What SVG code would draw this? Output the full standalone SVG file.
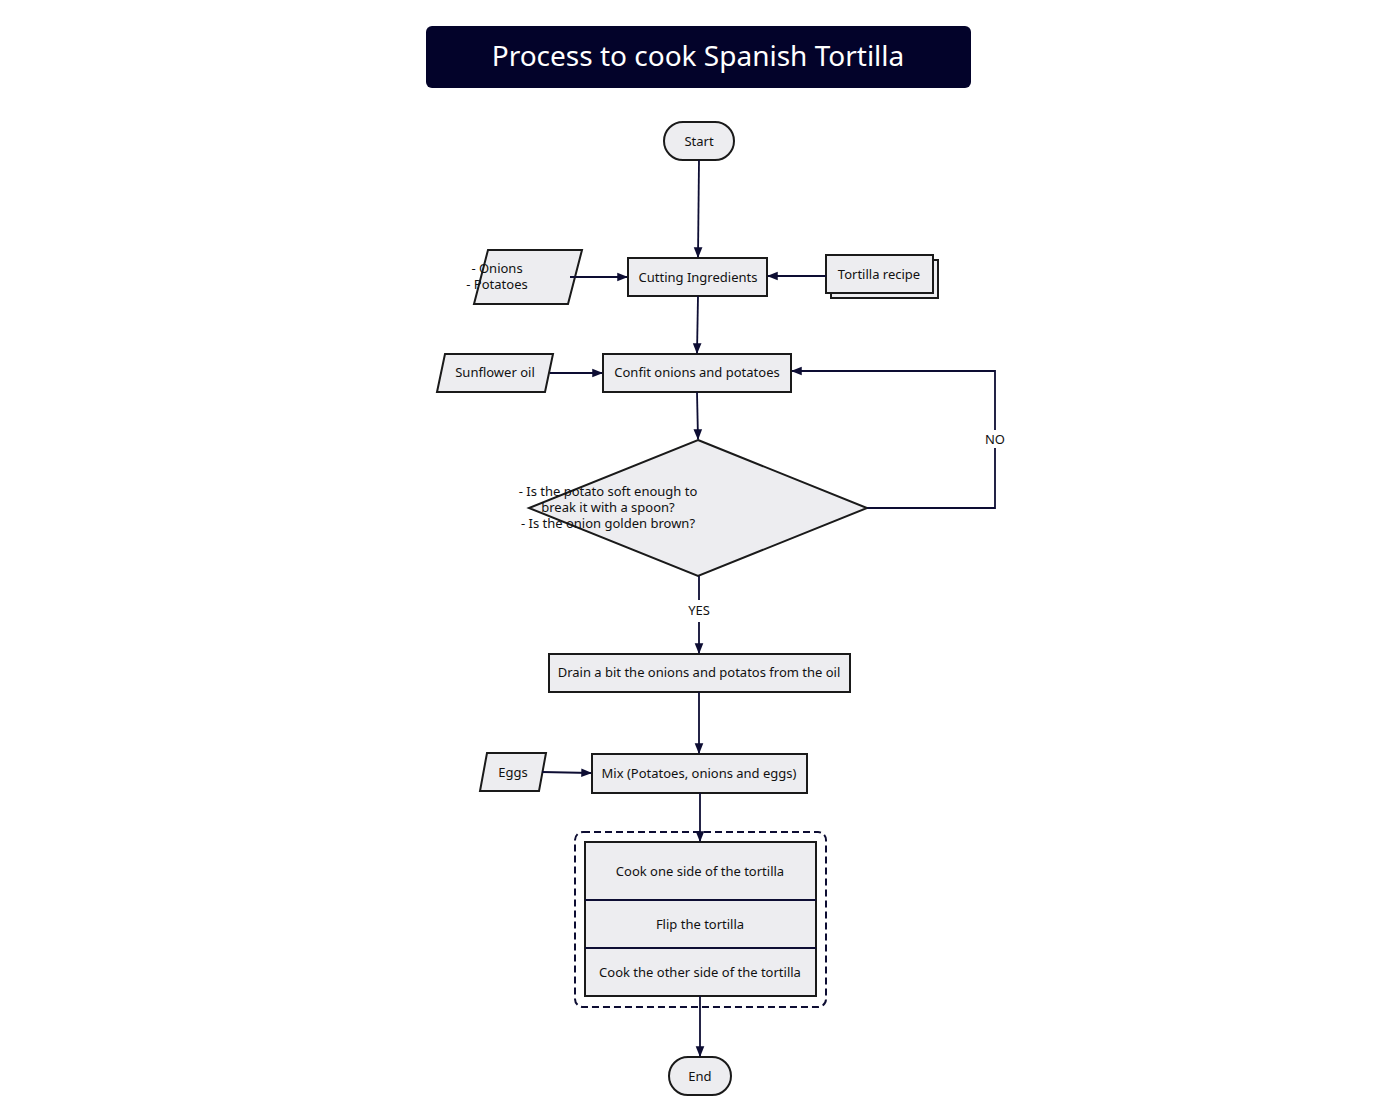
<svg xmlns="http://www.w3.org/2000/svg" width="1400" height="1118" viewBox="0 0 1400 1118">
<style>
.n{fill:#ededf0;stroke:#1a1a1a;stroke-width:2}
.t{font-family:"Noto Sans","Liberation Sans",sans-serif;font-size:13px;fill:#111;text-anchor:middle}
.c{fill:none;stroke:#0d0d33;stroke-width:1.8}
</style>
<defs><marker id="a" viewBox="0 0 10 10" refX="9" refY="5" markerWidth="6" markerHeight="6" orient="auto"><path d="M0,1 L10,5 L0,9 z" fill="#0d0d33"/></marker></defs>
<rect width="1400" height="1118" fill="#fff"/>
<g id="title"><rect x="426" y="26" width="545" height="62" rx="6" fill="#03032a"/><text x="698" y="66" font-family="Noto Sans,Liberation Sans,sans-serif" font-size="28" fill="#fff" text-anchor="middle">Process to cook Spanish Tortilla</text></g>
<g id="start"><rect class="n" x="664" y="122" width="70" height="38" rx="19"/><text class="t" x="699" y="146">Start</text></g>
<g id="ing"><polygon class="n" points="488,250 582,250 568,304 474,304"/><text class="t" x="497" y="273" text-anchor="start">- Onions</text><text class="t" x="497" y="289" text-anchor="start">- Potatoes</text></g>
<g id="cut"><rect class="n" x="628" y="258" width="139" height="38"/><text class="t" x="698" y="282">Cutting Ingredients</text></g>
<g id="recipe"><rect class="n" x="831" y="260" width="107" height="38"/><rect class="n" x="826" y="255" width="107" height="38"/><text class="t" x="879" y="279">Tortilla recipe</text></g>
<g id="oil"><polygon class="n" points="445,354 553,354 545,392 437,392"/><text class="t" x="495" y="377">Sunflower oil</text></g>
<g id="confit"><rect class="n" x="603" y="354" width="188" height="38"/><text class="t" x="697" y="377">Confit onions and potatoes</text></g>
<g id="dec"><polygon class="n" points="698,440 867,508 698,576 529,508"/><text class="t" x="608" y="496" text-anchor="start">- Is the potato soft enough to</text><text class="t" x="608" y="512" text-anchor="start">break it with a spoon?</text><text class="t" x="608" y="528" text-anchor="start">- Is the onion golden brown?</text></g>
<g id="drain"><rect class="n" x="549" y="654" width="301" height="38"/><text class="t" x="699" y="677">Drain a bit the onions and potatos from the oil</text></g>
<g id="eggs"><polygon class="n" points="487,753 546,753 539,791 480,791"/><text class="t" x="513" y="777">Eggs</text></g>
<g id="mix"><rect class="n" x="592" y="754" width="215" height="39"/><text class="t" x="699" y="778">Mix (Potatoes, onions and eggs)</text></g>
<g id="cook"><rect x="575" y="832" width="251" height="175" rx="8" fill="none" stroke="#0d0d33" stroke-width="2" stroke-dasharray="7,4"/><rect class="n" x="585" y="842" width="231" height="154"/><line x1="585" y1="900" x2="816" y2="900" stroke="#0d0d33" stroke-width="1.8"/><line x1="585" y1="948" x2="816" y2="948" stroke="#0d0d33" stroke-width="1.8"/><text class="t" x="700" y="876">Cook one side of the tortilla</text><text class="t" x="700" y="929">Flip the tortilla</text><text class="t" x="700" y="977">Cook the other side of the tortilla</text></g>
<g id="end"><rect class="n" x="669" y="1057" width="62" height="38" rx="19"/><text class="t" x="700" y="1081">End</text></g>
<g id="connectors">
<path class="c" d="M699,160 L698,257" marker-end="url(#a)"/>
<path class="c" d="M570,277 L627,277" marker-end="url(#a)"/>
<path class="c" d="M826,276 L768,276" marker-end="url(#a)"/>
<path class="c" d="M698,296 L697,353" marker-end="url(#a)"/>
<path class="c" d="M550,373 L602,373" marker-end="url(#a)"/>
<path class="c" d="M697,392 L698,439" marker-end="url(#a)"/>
<path class="c" d="M867,508 L995,508 L995,371 L792,371" marker-end="url(#a)"/>
<path class="c" d="M699,576 L699,600 M699,622 L699,653" marker-end="url(#a)"/>
<path class="c" d="M699,692 L699,753" marker-end="url(#a)"/>
<path class="c" d="M542,772 L591,773" marker-end="url(#a)"/>
<path class="c" d="M700,793 L700,841" marker-end="url(#a)"/>
<path class="c" d="M700,996 L700,1056" marker-end="url(#a)"/>
<rect x="980" y="430" width="30" height="18" fill="#fff"/>
<text class="t" x="995" y="444">NO</text>
<text class="t" x="699" y="615" font-size="12">YES</text>
</g>
</svg>
